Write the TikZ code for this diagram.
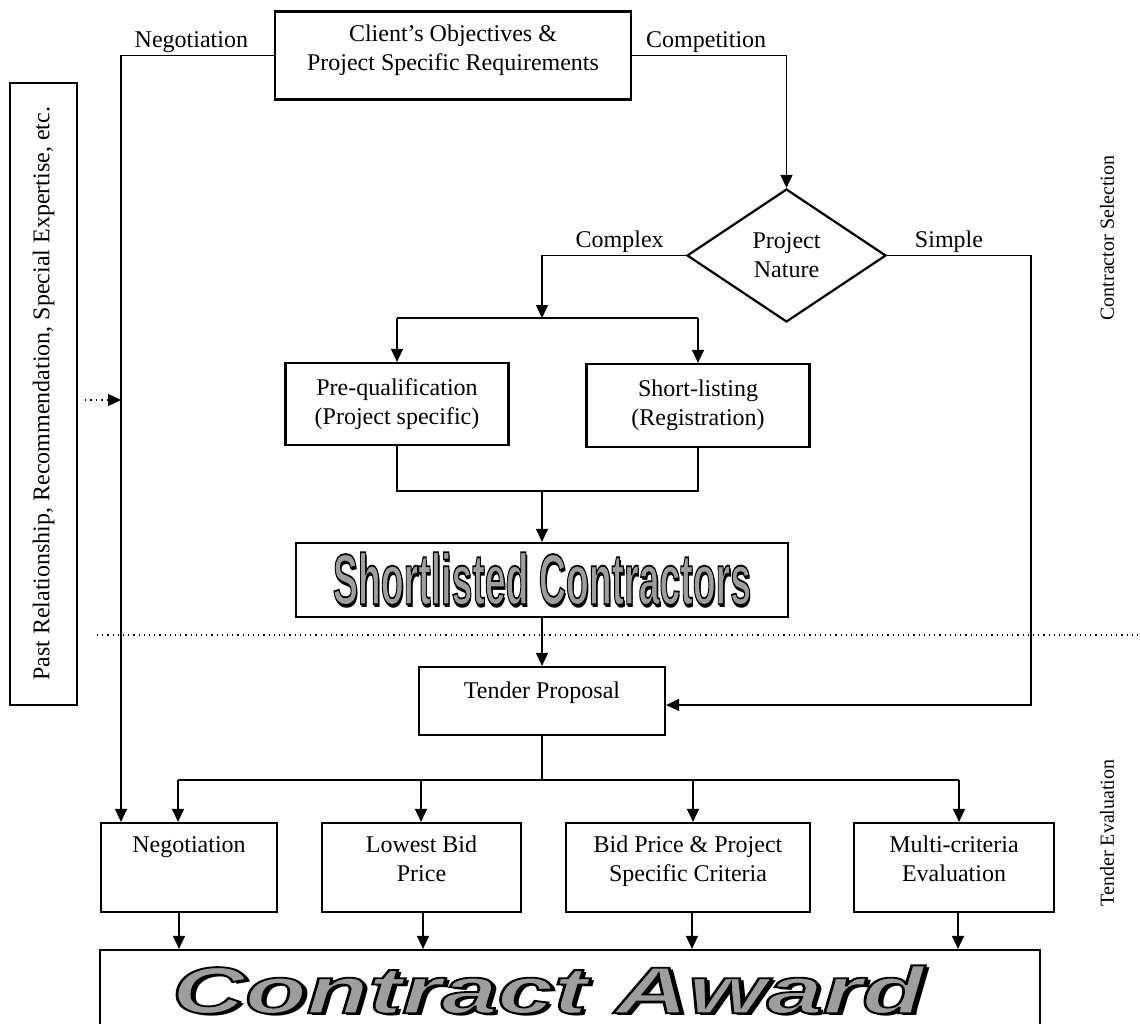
\documentclass[tikz,border=0pt]{standalone}
\usepackage{fontspec}
\setmainfont{Liberation Serif}
\newfontfamily\displayfont{Liberation Sans}
\usetikzlibrary{arrows.meta,shapes.geometric}

% grey letters with a black outline and a small drop shadow
\newcommand\hollow[1]{%
  \leavevmode\rlap{\kern1.4pt\raisebox{-1.4pt}{\color{black}#1}}%
  {\color[gray]{0.62}\special{pdf:literal direct 0 G 2 Tr 0.9 w}#1\special{pdf:literal direct 0 Tr}}}

% text hanging from the top of a box of fixed height
\newcommand\toptext[4]{\parbox[c][#2][t]{#1}{\centering\vspace*{#3}\strut#4}}

\begin{document}
\begin{tikzpicture}[x=0.5pt,y=-0.5pt,
  box/.style={draw, line width=1.1pt, inner sep=0pt, align=center,
    font=\fontsize{12}{14.5}\selectfont},
  conn/.style={line width=0.7pt},
  arr/.style={conn,-{Triangle[length=6.5pt,width=6pt]}},
  lbl/.style={font=\fontsize{12}{14}\selectfont, inner sep=1.2pt, above},
  side/.style={font=\fontsize{10}{12}\selectfont, rotate=90, inner sep=0pt},
]
\useasboundingbox (0,0) rectangle (1140,1023);

% ---- boxes ----
\node[box, minimum width=178pt, minimum height=44pt] (client) at (453,55.5)
  {\toptext{175pt}{44pt}{5pt}{Client’s Objectives \&\\Project Specific Requirements}};
\node[box, rotate=90, minimum width=311pt, minimum height=33.5pt] (past) at (43.5,394)
  {Past Relationship, Recommendation, Special Expertise, etc.};
\node[box, shape=diamond, minimum width=99.5pt, minimum height=66.5pt] (nature) at (786.5,255.5)
  {Project\\Nature};
\node[box, minimum width=111.5pt, minimum height=41pt] (prequal) at (397,404)
  {Pre-qualification\\(Project specific)};
\node[box, minimum width=111.5pt, minimum height=41.5pt] (shortlist) at (698,405.5)
  {Short-listing\\(Registration)};
\node[box, minimum width=246pt, minimum height=37pt] (listed) at (542,580)
  {\scalebox{0.52}[1]{\displayfont\bfseries\fontsize{36}{40}\selectfont\hollow{Shortlisted Contractors}}};
\node[box, minimum width=123pt, minimum height=34pt] (tender) at (542,701)
  {\toptext{120pt}{34pt}{5.8pt}{Tender Proposal}};

\node[box, minimum width=88pt, minimum height=44.5pt] (neg) at (189,867.5)
  {\toptext{85pt}{44.5pt}{4.4pt}{Negotiation}};
\node[box, minimum width=99.5pt, minimum height=44.5pt] (lowest) at (421.5,867.5)
  {\toptext{96pt}{44.5pt}{4.4pt}{Lowest Bid\\Price}};
\node[box, minimum width=122pt, minimum height=44.5pt] (bidprice) at (688,867.5)
  {\toptext{119pt}{44.5pt}{4.4pt}{Bid Price \& Project\\Specific Criteria}};
\node[box, minimum width=100pt, minimum height=44.5pt] (multi) at (954,867.5)
  {\toptext{97pt}{44.5pt}{4.4pt}{Multi-criteria\\Evaluation}};

\node[box, minimum width=470pt, minimum height=41pt] (award) at (570,991)
  {\hspace*{-11pt}\scalebox{1.53}[1]{\displayfont\bfseries\itshape\fontsize{33}{36}\selectfont\hollow{Contract Award}}\hspace*{11pt}};

% ---- side labels ----
\node[side] (selLbl) at (1107,238) {Contractor Selection};
\node[side] (evalLbl) at (1107,833) {Tender Evaluation};

% ---- route coordinates ----
\coordinate (negx) at (121,0);
\coordinate (splitA) at (542,318);
\coordinate (mergeA) at (542,491);
\coordinate (simplex) at (1031,0);
\coordinate (simpley) at (0,705);
\coordinate (branch) at (542,780);
\coordinate (c1) at (178,780);
\coordinate (c2) at (421,780);
\coordinate (c3) at (693,780);
\coordinate (c4) at (959,780);
\coordinate (d1) at (179,0);
\coordinate (d2) at (423,0);
\coordinate (d3) at (692,0);
\coordinate (d4) at (958,0);
\coordinate (hint) at (85,400);
\coordinate (sepL) at (97,635);
\coordinate (sepR) at (1140,635);

% ---- connectors ----
\draw[arr] (client.west) -- node[lbl,pos=0.54]{Negotiation} (client.west -| negx) -- (neg.north -| negx);
\draw[arr] (client.east) -- node[lbl,pos=0.48]{Competition} (client.east -| nature.north) -- (nature.north);

\draw[arr] (nature.west) -- node[lbl,pos=0.46]{Complex} (nature.west -| splitA) -- (splitA);
\draw[conn] (prequal.north |- splitA) -- (shortlist.north |- splitA);
\draw[arr] (prequal.north |- splitA) -- (prequal.north);
\draw[arr] (shortlist.north |- splitA) -- (shortlist.north);

\draw[conn] (prequal.south) -- (prequal.south |- mergeA) -- (shortlist.south |- mergeA) -- (shortlist.south);
\draw[arr] (mergeA) -- (listed.north);
\draw[arr] (listed.south) -- (tender.north);

\draw[arr] (nature.east) -- node[lbl,pos=0.43]{Simple} (nature.east -| simplex) -- (simplex |- simpley) -- (tender.east |- simpley);

\draw[conn] (tender.south) -- (branch);
\draw[conn] (c1) -- (c4);
\draw[arr] (c1) -- (c1 |- neg.north);
\draw[arr] (c2) -- (c2 |- lowest.north);
\draw[arr] (c3) -- (c3 |- bidprice.north);
\draw[arr] (c4) -- (c4 |- multi.north);

\draw[arr] (neg.south -| d1) -- (award.north -| d1);
\draw[arr] (lowest.south -| d2) -- (award.north -| d2);
\draw[arr] (bidprice.south -| d3) -- (award.north -| d3);
\draw[arr] (multi.south -| d4) -- (award.north -| d4);

\draw[dotted, line width=0.7pt, -{Triangle[length=6.5pt,width=6pt]}] (hint) -- (hint -| negx);
\draw[dotted, line width=0.6pt] (sepL) -- (sepR);
\end{tikzpicture}
\end{document}
